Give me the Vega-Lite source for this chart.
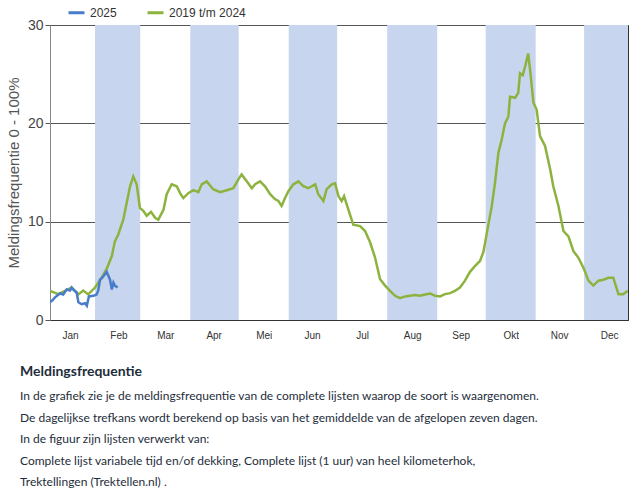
{
  "$schema": "https://vega.github.io/schema/vega-lite/v6.json",
  "width": 578,
  "height": 295,
  "autosize": {"type": "none"},
  "padding": {"left": 50, "top": 25, "right": 14, "bottom": 173},
  "background": "white",
  "config": {
    "view": {"stroke": "#333", "strokeWidth": 1},
    "font": "Liberation Sans"
  },
  "title": {
    "text": "Meldingsfrequentie",
    "subtitle": [
      "In de grafiek zie je de meldingsfrequentie van de complete lijsten waarop de soort is waargenomen.",
      "De dagelijkse trefkans wordt berekend op basis van het gemiddelde van de afgelopen zeven dagen.",
      "In de figuur zijn lijsten verwerkt van:",
      "Complete lijst variabele tijd en/of dekking, Complete lijst (1 uur) van heel kilometerhok,",
      "Trektellingen (Trektellen.nl) ."
    ],
    "orient": "bottom",
    "anchor": "start",
    "frame": "group",
    "dx": -30,
    "offset": 24.5,
    "font": "Lato",
    "fontSize": 14,
    "fontWeight": "bold",
    "color": "#1e2d3b",
    "subtitleFont": "Lato",
    "subtitleFontSize": 12,
    "subtitleColor": "#1e2d3b",
    "subtitleLineHeight": 21.5,
    "subtitlePadding": 12.5
  },
  "datasets": {
    "bands": [
      {"start": 31, "end": 59},
      {"start": 90, "end": 120},
      {"start": 151, "end": 181},
      {"start": 212, "end": 243},
      {"start": 273, "end": 304},
      {"start": 334, "end": 365}
    ],
    "lines": [
      {"serie": "2019 t/m 2024", "day": 3.1, "value": 2.97},
      {"serie": "2019 t/m 2024", "day": 8.3, "value": 2.63},
      {"serie": "2019 t/m 2024", "day": 12.4, "value": 2.97},
      {"serie": "2019 t/m 2024", "day": 16.5, "value": 3.3},
      {"serie": "2019 t/m 2024", "day": 20.7, "value": 2.6},
      {"serie": "2019 t/m 2024", "day": 23.7, "value": 3.0},
      {"serie": "2019 t/m 2024", "day": 26.8, "value": 2.6},
      {"serie": "2019 t/m 2024", "day": 31.0, "value": 3.3},
      {"serie": "2019 t/m 2024", "day": 35.1, "value": 4.3},
      {"serie": "2019 t/m 2024", "day": 38.2, "value": 5.2},
      {"serie": "2019 t/m 2024", "day": 41.4, "value": 6.5},
      {"serie": "2019 t/m 2024", "day": 43.3, "value": 8.0},
      {"serie": "2019 t/m 2024", "day": 45.4, "value": 8.7},
      {"serie": "2019 t/m 2024", "day": 48.5, "value": 10.2},
      {"serie": "2019 t/m 2024", "day": 50.6, "value": 11.9},
      {"serie": "2019 t/m 2024", "day": 52.7, "value": 13.6},
      {"serie": "2019 t/m 2024", "day": 54.7, "value": 14.6},
      {"serie": "2019 t/m 2024", "day": 56.8, "value": 13.8},
      {"serie": "2019 t/m 2024", "day": 58.8, "value": 11.4},
      {"serie": "2019 t/m 2024", "day": 60.9, "value": 11.1},
      {"serie": "2019 t/m 2024", "day": 63.0, "value": 10.6},
      {"serie": "2019 t/m 2024", "day": 65.7, "value": 11.0},
      {"serie": "2019 t/m 2024", "day": 68.2, "value": 10.4},
      {"serie": "2019 t/m 2024", "day": 70.2, "value": 10.2},
      {"serie": "2019 t/m 2024", "day": 73.4, "value": 11.2},
      {"serie": "2019 t/m 2024", "day": 75.4, "value": 12.8},
      {"serie": "2019 t/m 2024", "day": 78.5, "value": 13.8},
      {"serie": "2019 t/m 2024", "day": 81.6, "value": 13.6},
      {"serie": "2019 t/m 2024", "day": 83.7, "value": 12.9},
      {"serie": "2019 t/m 2024", "day": 85.7, "value": 12.4},
      {"serie": "2019 t/m 2024", "day": 88.8, "value": 12.9},
      {"serie": "2019 t/m 2024", "day": 91.9, "value": 13.2},
      {"serie": "2019 t/m 2024", "day": 95.0, "value": 13.0},
      {"serie": "2019 t/m 2024", "day": 97.1, "value": 13.8},
      {"serie": "2019 t/m 2024", "day": 100.2, "value": 14.1},
      {"serie": "2019 t/m 2024", "day": 104.2, "value": 13.3},
      {"serie": "2019 t/m 2024", "day": 108.5, "value": 13.0},
      {"serie": "2019 t/m 2024", "day": 112.6, "value": 13.2},
      {"serie": "2019 t/m 2024", "day": 116.7, "value": 13.4},
      {"serie": "2019 t/m 2024", "day": 119.8, "value": 14.3},
      {"serie": "2019 t/m 2024", "day": 121.8, "value": 14.8},
      {"serie": "2019 t/m 2024", "day": 125.0, "value": 14.1},
      {"serie": "2019 t/m 2024", "day": 128.1, "value": 13.4},
      {"serie": "2019 t/m 2024", "day": 130.2, "value": 13.8},
      {"serie": "2019 t/m 2024", "day": 133.2, "value": 14.1},
      {"serie": "2019 t/m 2024", "day": 136.3, "value": 13.6},
      {"serie": "2019 t/m 2024", "day": 139.5, "value": 12.8},
      {"serie": "2019 t/m 2024", "day": 142.4, "value": 12.3},
      {"serie": "2019 t/m 2024", "day": 144.6, "value": 12.1},
      {"serie": "2019 t/m 2024", "day": 146.6, "value": 11.6},
      {"serie": "2019 t/m 2024", "day": 148.7, "value": 12.4},
      {"serie": "2019 t/m 2024", "day": 150.8, "value": 13.1},
      {"serie": "2019 t/m 2024", "day": 153.9, "value": 13.8},
      {"serie": "2019 t/m 2024", "day": 157.0, "value": 14.1},
      {"serie": "2019 t/m 2024", "day": 160.1, "value": 13.6},
      {"serie": "2019 t/m 2024", "day": 163.1, "value": 13.4},
      {"serie": "2019 t/m 2024", "day": 167.4, "value": 13.8},
      {"serie": "2019 t/m 2024", "day": 169.3, "value": 12.8},
      {"serie": "2019 t/m 2024", "day": 172.5, "value": 12.1},
      {"serie": "2019 t/m 2024", "day": 174.5, "value": 13.3},
      {"serie": "2019 t/m 2024", "day": 177.7, "value": 13.8},
      {"serie": "2019 t/m 2024", "day": 179.7, "value": 13.9},
      {"serie": "2019 t/m 2024", "day": 181.8, "value": 12.6},
      {"serie": "2019 t/m 2024", "day": 183.8, "value": 12.1},
      {"serie": "2019 t/m 2024", "day": 185.3, "value": 12.6},
      {"serie": "2019 t/m 2024", "day": 188.0, "value": 11.2},
      {"serie": "2019 t/m 2024", "day": 191.0, "value": 9.7},
      {"serie": "2019 t/m 2024", "day": 195.2, "value": 9.55},
      {"serie": "2019 t/m 2024", "day": 198.3, "value": 9.05},
      {"serie": "2019 t/m 2024", "day": 201.4, "value": 7.9},
      {"serie": "2019 t/m 2024", "day": 204.4, "value": 6.4},
      {"serie": "2019 t/m 2024", "day": 207.6, "value": 4.15},
      {"serie": "2019 t/m 2024", "day": 210.7, "value": 3.5},
      {"serie": "2019 t/m 2024", "day": 213.8, "value": 2.97},
      {"serie": "2019 t/m 2024", "day": 216.9, "value": 2.46},
      {"serie": "2019 t/m 2024", "day": 220.0, "value": 2.23},
      {"serie": "2019 t/m 2024", "day": 223.1, "value": 2.4},
      {"serie": "2019 t/m 2024", "day": 226.1, "value": 2.46},
      {"serie": "2019 t/m 2024", "day": 229.3, "value": 2.53},
      {"serie": "2019 t/m 2024", "day": 232.3, "value": 2.46},
      {"serie": "2019 t/m 2024", "day": 235.5, "value": 2.6},
      {"serie": "2019 t/m 2024", "day": 238.6, "value": 2.7},
      {"serie": "2019 t/m 2024", "day": 241.6, "value": 2.46},
      {"serie": "2019 t/m 2024", "day": 244.8, "value": 2.4},
      {"serie": "2019 t/m 2024", "day": 247.8, "value": 2.63},
      {"serie": "2019 t/m 2024", "day": 251.0, "value": 2.73},
      {"serie": "2019 t/m 2024", "day": 254.0, "value": 2.97},
      {"serie": "2019 t/m 2024", "day": 257.1, "value": 3.3},
      {"serie": "2019 t/m 2024", "day": 260.2, "value": 4.0},
      {"serie": "2019 t/m 2024", "day": 263.3, "value": 4.9},
      {"serie": "2019 t/m 2024", "day": 266.5, "value": 5.5},
      {"serie": "2019 t/m 2024", "day": 269.5, "value": 6.0},
      {"serie": "2019 t/m 2024", "day": 271.6, "value": 6.9},
      {"serie": "2019 t/m 2024", "day": 274.7, "value": 9.7},
      {"serie": "2019 t/m 2024", "day": 276.8, "value": 11.6},
      {"serie": "2019 t/m 2024", "day": 278.8, "value": 13.95},
      {"serie": "2019 t/m 2024", "day": 280.9, "value": 17.0},
      {"serie": "2019 t/m 2024", "day": 282.9, "value": 18.3},
      {"serie": "2019 t/m 2024", "day": 285.0, "value": 20.0},
      {"serie": "2019 t/m 2024", "day": 287.1, "value": 20.7},
      {"serie": "2019 t/m 2024", "day": 288.1, "value": 22.7},
      {"serie": "2019 t/m 2024", "day": 291.3, "value": 22.6},
      {"serie": "2019 t/m 2024", "day": 293.2, "value": 23.1},
      {"serie": "2019 t/m 2024", "day": 294.3, "value": 25.1},
      {"serie": "2019 t/m 2024", "day": 296.0, "value": 24.9},
      {"serie": "2019 t/m 2024", "day": 297.5, "value": 25.8},
      {"serie": "2019 t/m 2024", "day": 299.4, "value": 27.1},
      {"serie": "2019 t/m 2024", "day": 301.0, "value": 24.75},
      {"serie": "2019 t/m 2024", "day": 302.6, "value": 22.1},
      {"serie": "2019 t/m 2024", "day": 304.6, "value": 21.4},
      {"serie": "2019 t/m 2024", "day": 306.7, "value": 18.7},
      {"serie": "2019 t/m 2024", "day": 309.8, "value": 17.7},
      {"serie": "2019 t/m 2024", "day": 313.0, "value": 15.3},
      {"serie": "2019 t/m 2024", "day": 314.9, "value": 13.6},
      {"serie": "2019 t/m 2024", "day": 318.1, "value": 11.6},
      {"serie": "2019 t/m 2024", "day": 321.2, "value": 9.05},
      {"serie": "2019 t/m 2024", "day": 324.3, "value": 8.5},
      {"serie": "2019 t/m 2024", "day": 327.4, "value": 7.0},
      {"serie": "2019 t/m 2024", "day": 330.4, "value": 6.35},
      {"serie": "2019 t/m 2024", "day": 333.6, "value": 5.3},
      {"serie": "2019 t/m 2024", "day": 336.7, "value": 4.0},
      {"serie": "2019 t/m 2024", "day": 339.7, "value": 3.5},
      {"serie": "2019 t/m 2024", "day": 342.9, "value": 4.0},
      {"serie": "2019 t/m 2024", "day": 345.9, "value": 4.1},
      {"serie": "2019 t/m 2024", "day": 349.1, "value": 4.3},
      {"serie": "2019 t/m 2024", "day": 352.1, "value": 4.3},
      {"serie": "2019 t/m 2024", "day": 353.6, "value": 3.5},
      {"serie": "2019 t/m 2024", "day": 355.3, "value": 2.63},
      {"serie": "2019 t/m 2024", "day": 358.3, "value": 2.63},
      {"serie": "2019 t/m 2024", "day": 361.2, "value": 2.97},
      {"serie": "2025", "day": 3.1, "value": 1.8},
      {"serie": "2025", "day": 4.6, "value": 2.0},
      {"serie": "2025", "day": 6.2, "value": 2.3},
      {"serie": "2025", "day": 9.3, "value": 2.7},
      {"serie": "2025", "day": 11.3, "value": 2.6},
      {"serie": "2025", "day": 13.4, "value": 3.1},
      {"serie": "2025", "day": 15.5, "value": 3.0},
      {"serie": "2025", "day": 16.5, "value": 3.3},
      {"serie": "2025", "day": 17.5, "value": 3.1},
      {"serie": "2025", "day": 19.6, "value": 2.8},
      {"serie": "2025", "day": 20.7, "value": 1.8},
      {"serie": "2025", "day": 22.7, "value": 1.6},
      {"serie": "2025", "day": 24.8, "value": 1.7},
      {"serie": "2025", "day": 25.9, "value": 1.45},
      {"serie": "2025", "day": 27.2, "value": 2.4},
      {"serie": "2025", "day": 30.0, "value": 2.46},
      {"serie": "2025", "day": 32.0, "value": 2.6},
      {"serie": "2025", "day": 33.0, "value": 3.0},
      {"serie": "2025", "day": 34.1, "value": 4.1},
      {"serie": "2025", "day": 35.5, "value": 4.3},
      {"serie": "2025", "day": 37.1, "value": 4.66},
      {"serie": "2025", "day": 38.2, "value": 4.9},
      {"serie": "2025", "day": 40.3, "value": 4.1},
      {"serie": "2025", "day": 41.4, "value": 3.1},
      {"serie": "2025", "day": 42.4, "value": 3.8},
      {"serie": "2025", "day": 43.3, "value": 3.5},
      {"serie": "2025", "day": 45.0, "value": 3.3}
    ]
  },
  "layer": [
    {
      "data": {"name": "bands"},
      "mark": {"type": "rect", "color": "#c7d6ee", "clip": true},
      "encoding": {
        "x": {
          "field": "start",
          "type": "quantitative",
          "scale": {"domain": [3.1, 361.2], "nice": false, "zero": false},
          "axis": {
            "values": [15.5, 31, 45.5, 59, 74.5, 90, 104.5, 120, 135.5, 151, 165.5, 181, 196.5, 212, 227.5, 243, 257.5, 273, 288.5, 304, 318.5, 334, 349.5],
            "labelExpr": "datum.value % 1 == 0 ? '' : ['Jan','Feb','Mar','Apr','Mei','Jun','Jul','Aug','Sep','Okt','Nov','Dec'][floor(datum.value / 30.5)]",
            "tickOpacity": {"condition": {"test": "datum.value % 1 != 0", "value": 0}, "value": 1},
            "tickSize": 8,
            "tickColor": "#333",
            "domainColor": "#333",
            "labelFontSize": 10,
            "labelColor": "#333",
            "labelPadding": 2,
            "labelOverlap": false,
            "labelFlush": false,
            "grid": false,
            "title": null
          }
        },
        "x2": {"field": "end"},
        "y": {"value": 0},
        "y2": {"value": 295}
      }
    },
    {
      "data": {"name": "lines"},
      "transform": [{"filter": "datum.serie == '2019 t/m 2024'"}],
      "mark": {"type": "line", "strokeWidth": 2.5, "interpolate": "linear", "clip": true},
      "encoding": {
        "x": {"field": "day", "type": "quantitative"},
        "y": {
          "field": "value",
          "type": "quantitative",
          "scale": {"domain": [0, 30], "nice": false},
          "axis": {
            "values": [0, 10, 20, 30],
            "grid": true,
            "gridColor": "#555",
            "gridOpacity": 1,
            "domainColor": "#888",
            "tickColor": "#555",
            "tickSize": 5,
            "labelFontSize": 14,
            "labelColor": "#444",
            "labelPadding": 2,
            "title": "Meldingsfrequentie 0 - 100%",
            "titleFontSize": 15,
            "titleFontWeight": "normal",
            "titleColor": "#555",
            "titlePadding": 6
          }
        },
        "color": {
          "field": "serie",
          "type": "nominal",
          "scale": {"domain": ["2025", "2019 t/m 2024"], "range": ["#4a7dc9", "#8db33e"]},
          "legend": {
            "title": null,
            "orient": "none",
            "legendX": 17,
            "legendY": -22,
            "direction": "horizontal",
            "symbolType": "stroke",
            "symbolStrokeWidth": 3,
            "symbolSize": 256,
            "labelFontSize": 12,
            "labelColor": "#333",
            "labelOffset": 4,
            "columnPadding": 24
          }
        }
      }
    },
    {
      "data": {"name": "lines"},
      "transform": [{"filter": "datum.serie == '2025'"}],
      "mark": {"type": "line", "strokeWidth": 2.5, "interpolate": "linear", "clip": true},
      "encoding": {
        "x": {"field": "day", "type": "quantitative"},
        "y": {"field": "value", "type": "quantitative"},
        "color": {"field": "serie", "type": "nominal"}
      }
    }
  ]
}
